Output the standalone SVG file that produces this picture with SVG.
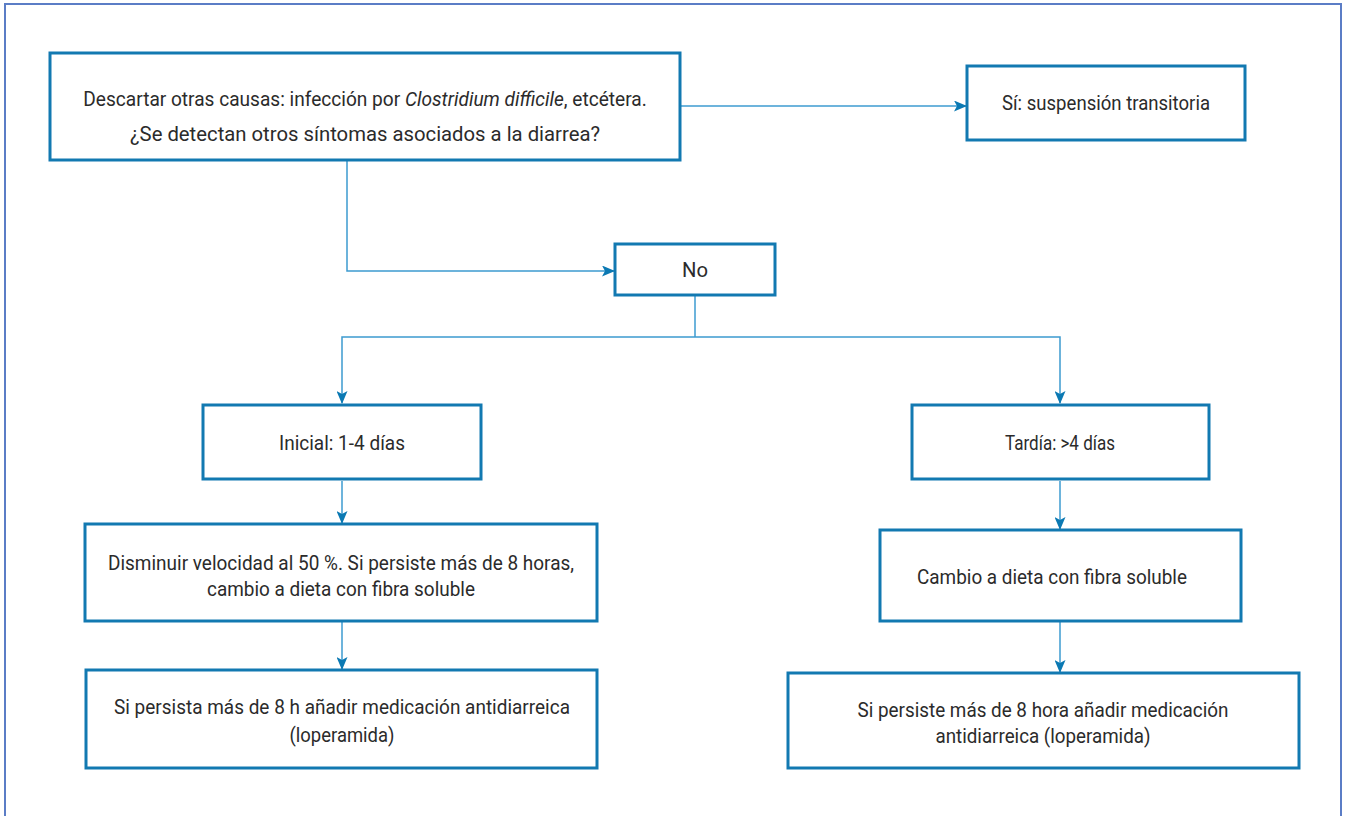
<svg xmlns="http://www.w3.org/2000/svg" width="1346" height="816" viewBox="0 0 1346 816">
<defs>
<marker id="ah" markerWidth="13" markerHeight="11" refX="12" refY="5.5" orient="auto" markerUnits="userSpaceOnUse">
<path d="M0,0 L13,5.5 L0,11 L3,5.5 Z" fill="#0b79b3"/>
</marker>
<style>
.box{fill:#fff;stroke:#1279b1;stroke-width:3}
.t{font-family:Roboto,"Liberation Sans",sans-serif;font-size:21px;fill:#2b2b2b;text-anchor:middle}
.c{fill:none;stroke:#3d9bd0;stroke-width:1.5}
.frame{fill:none;stroke:#5b7dc6;stroke-width:2}
</style>
</defs>
<rect width="1346" height="816" fill="#fff"/>
<path class="frame" d="M5,816 L5,4 L1341,4 L1341,816"/>
<g id="connectors">
<line class="c" x1="681" y1="106" x2="966" y2="106" marker-end="url(#ah)"/>
<polyline class="c" points="347,161 347,271 614,271" marker-end="url(#ah)"/>
<polyline class="c" points="695,296 695,337"/>
<polyline class="c" points="695,337 342,337 342,403" marker-end="url(#ah)"/>
<polyline class="c" points="695,337 1060,337 1060,403" marker-end="url(#ah)"/>
<line class="c" x1="342" y1="481" x2="342" y2="523" marker-end="url(#ah)"/>
<line class="c" x1="1060" y1="481" x2="1060" y2="529" marker-end="url(#ah)"/>
<line class="c" x1="342" y1="622" x2="342" y2="669" marker-end="url(#ah)"/>
<line class="c" x1="1060" y1="622" x2="1060" y2="672" marker-end="url(#ah)"/>
</g>
<g id="n1">
<rect class="box" x="50" y="53" width="630" height="107"/>
<g transform="translate(365,0) scale(0.91,1) translate(-365,0)">
<text class="t" x="365" y="106">Descartar otras causas: infección por <tspan font-style="italic">Clostridium difficile</tspan>, etcétera.</text>
</g>
<text class="t" x="365" y="141" textLength="470" lengthAdjust="spacingAndGlyphs">¿Se detectan otros síntomas asociados a la diarrea?</text>
</g>
<g id="n2">
<rect class="box" x="967" y="66" width="278" height="74"/>
<text class="t" x="1106" y="110" textLength="208" lengthAdjust="spacingAndGlyphs">Sí: suspensión transitoria</text>
</g>
<g id="n3">
<rect class="box" x="615" y="244" width="160" height="51"/>
<text class="t" x="695" y="277" textLength="26" lengthAdjust="spacingAndGlyphs">No</text>
</g>
<g id="n4">
<rect class="box" x="203" y="405" width="278" height="74"/>
<text class="t" x="342" y="450" textLength="126" lengthAdjust="spacingAndGlyphs">Inicial: 1-4 días</text>
</g>
<g id="n5">
<rect class="box" x="912" y="405" width="297" height="74"/>
<text class="t" x="1060" y="450" textLength="110" lengthAdjust="spacingAndGlyphs">Tardía: &gt;4 días</text>
</g>
<g id="n6">
<rect class="box" x="85" y="524" width="512" height="97"/>
<text class="t" x="341" y="570" textLength="466" lengthAdjust="spacingAndGlyphs">Disminuir velocidad al 50 %. Si persiste más de 8 horas,</text>
<text class="t" x="341" y="596" textLength="268" lengthAdjust="spacingAndGlyphs">cambio a dieta con fibra soluble</text>
</g>
<g id="n7">
<rect class="box" x="880" y="530" width="361" height="91"/>
<text class="t" x="1052" y="584" textLength="270" lengthAdjust="spacingAndGlyphs">Cambio a dieta con fibra soluble</text>
</g>
<g id="n8">
<rect class="box" x="86" y="670" width="511" height="98"/>
<text class="t" x="342" y="714" textLength="456" lengthAdjust="spacingAndGlyphs">Si persista más de 8 h añadir medicación antidiarreica</text>
<text class="t" x="342" y="742" textLength="105" lengthAdjust="spacingAndGlyphs">(loperamida)</text>
</g>
<g id="n9">
<rect class="box" x="788" y="673" width="511" height="95"/>
<text class="t" x="1043" y="717" textLength="371" lengthAdjust="spacingAndGlyphs">Si persiste más de 8 hora añadir medicación</text>
<text class="t" x="1043" y="743" textLength="215" lengthAdjust="spacingAndGlyphs">antidiarreica (loperamida)</text>
</g>
</svg>
